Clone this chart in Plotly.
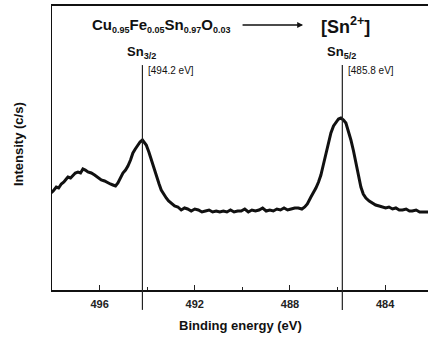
import plotly.graph_objects as go

# XPS Sn 3d spectrum (binding energy in eV, intensity in arbitrary c/s units)
energy = [
    498.05, 497.95, 497.82, 497.72, 497.61, 497.50, 497.40, 497.33, 497.22, 497.12,
    497.02, 496.91, 496.80, 496.70, 496.60, 496.49, 496.35, 496.21, 496.07, 495.93,
    495.79, 495.65, 495.55, 495.44, 495.33, 495.23, 495.12, 495.02, 494.91, 494.81,
    494.70, 494.60, 494.50, 494.39, 494.30, 494.20, 494.12, 494.04, 493.93, 493.83,
    493.72, 493.62, 493.50, 493.41, 493.30, 493.20, 493.10, 492.99, 492.85, 492.71,
    492.57, 492.43, 492.30, 492.15, 492.00, 491.85, 491.70, 491.55, 491.40, 491.25,
    491.10, 490.95, 490.80, 490.65, 490.50, 490.35, 490.20, 490.05, 489.90, 489.75,
    489.60, 489.45, 489.30, 489.15, 489.00, 488.85, 488.70, 488.55, 488.40, 488.25,
    488.10, 487.95, 487.80, 487.65, 487.50, 487.38, 487.27, 487.12, 487.00, 486.91,
    486.80, 486.70, 486.60, 486.49, 486.38, 486.28, 486.17, 486.07, 485.96, 485.86,
    485.75, 485.65, 485.55, 485.44, 485.33, 485.23, 485.12, 485.02, 484.92, 484.81,
    484.67, 484.53, 484.40, 484.25, 484.12, 483.98, 483.84, 483.69, 483.55, 483.41,
    483.27, 483.12, 482.98, 482.86, 482.70, 482.55, 482.36, 482.20,
]
intensity = [
    97, 99, 103, 102, 106, 108, 111, 113, 112, 115,
    117, 118, 117, 121, 120, 118, 117, 115, 112, 110,
    109, 107, 106, 105, 104, 107, 112, 117, 120, 124,
    130, 137, 141, 145, 148, 150, 148, 145, 138, 130,
    121, 113, 106, 100, 95, 92, 89, 87, 84, 83,
    80, 82, 81, 79, 81, 80, 78, 79, 80, 78,
    79, 78, 79, 78, 80, 78, 79, 79, 81, 78,
    80, 79, 80, 82, 79, 80, 79, 81, 80, 82,
    80, 81, 82, 82, 81, 83, 86, 93, 98, 102,
    108, 115, 125, 137, 147, 157, 164, 168, 171, 172,
    170, 167, 160, 150, 139, 127, 114, 103, 96, 92,
    89, 87, 85, 84, 83, 82, 83, 81, 82, 80,
    80, 81, 79, 79, 80, 78, 78, 78,
]

# Peak positions and their labels
peak_energy = [494.2, 485.8]
peak_names = ["Sn<sub>3/2</sub>", "Sn<sub>5/2</sub>"]
peak_values = ["[494.2 eV]", "[485.8 eV]"]

# Composition shown in the header
elements = ["Cu", "Fe", "Sn", "O"]
fractions = ["0.95", "0.05", "0.97", "0.03"]

tick_vals = [496, 492, 488, 484]
x_range = [498.0, 482.2]
y_range = [0, 284]

FONT = "Liberation Sans, Arial, sans-serif"
INK = "#111111"

fig = go.Figure()
fig.add_trace(go.Scatter(
    x=energy, y=intensity, mode="lines",
    line=dict(color=INK, width=3),
    hoverinfo="skip", showlegend=False,
))

# Vertical markers at each peak position
for e in peak_energy:
    fig.add_shape(type="line", xref="x", yref="paper",
                  x0=e, x1=e, y0=-0.07, y1=0.792,
                  line=dict(color="#222222", width=1.2))

annotations = []
for e, name, val in zip(peak_energy, peak_names, peak_values):
    annotations.append(dict(x=e + 0.05, y=238, xref="x", yref="y", text="<b>" + name + "</b>",
                            showarrow=False, xanchor="center", yanchor="middle",
                            font=dict(family=FONT, size=13, color=INK)))
    annotations.append(dict(x=e - 0.17, y=220, xref="x", yref="y", text=val,
                            showarrow=False, xanchor="left", yanchor="middle",
                            font=dict(family=FONT, size=10, color=INK)))

# Header: formula, arrow and oxidation state
formula = "".join(
    f"{el}<sub><span style='font-size:9px'>{fr}</span></sub>" for el, fr in zip(elements, fractions)
)
annotations.append(dict(x=493.42, y=265, xref="x", yref="y",
                        text="<b>" + formula + "</b>",
                        showarrow=False, xanchor="center", yanchor="middle",
                        font=dict(family=FONT, size=15, color=INK)))
annotations.append(dict(x=487.45, y=265, xref="x", yref="y", text="",
                        showarrow=True, ax=-62, ay=0, arrowhead=2, arrowsize=0.9,
                        arrowwidth=1.3, arrowcolor=INK, standoff=0))
annotations.append(dict(x=485.65, y=265, xref="x", yref="y",
                        text="<b>[Sn<sup>2+</sup>]</b>",
                        showarrow=False, xanchor="center", yanchor="middle",
                        font=dict(family=FONT, size=18, color=INK)))

# Axis titles
annotations.append(dict(x=0, y=0.514, xref="paper", yref="paper", xshift=-34,
                        text="<b>Intensity (c/s)</b>", textangle=-90, showarrow=False,
                        xanchor="center", yanchor="middle",
                        font=dict(family=FONT, size=13, color=INK)))
annotations.append(dict(x=0.5, y=0, xref="paper", yref="paper", yshift=-35,
                        text="<b>Binding energy (eV)</b>", showarrow=False,
                        xanchor="center", yanchor="middle",
                        font=dict(family=FONT, size=13, color=INK)))

fig.update_layout(
    width=428, height=340,
    margin=dict(l=52, r=0, t=6, b=50),
    paper_bgcolor="white", plot_bgcolor="white",
    annotations=annotations,
    xaxis=dict(range=x_range, tickvals=tick_vals, ticks="inside", ticklen=5,
               tickwidth=1, tickcolor="#222222", ticklabelstandoff=3,
               showline=True, linecolor=INK, linewidth=1.6, mirror=True,
               showgrid=False, zeroline=False,
               minor=dict(dtick=2, ticks="inside", ticklen=3, tickcolor="#222222", showgrid=False),
               tickfont=dict(family=FONT, size=11, color="#222222", weight="bold")),
    yaxis=dict(range=y_range, showticklabels=False, ticks="",
               showline=True, linecolor=INK, linewidth=1.4,
               showgrid=False, zeroline=False),
)

fig.write_html("out.html")
